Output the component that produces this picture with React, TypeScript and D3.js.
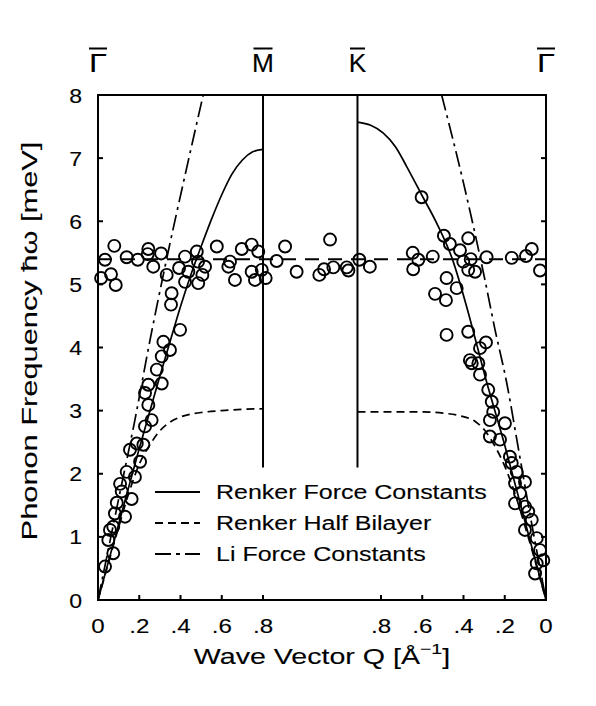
import React from "react";
import * as d3 from "d3";

// path lengths along Γ-M-K-Γ in Å^-1
const Q_M = 0.8;
const Q_MK = 0.458;
const Q_K = 0.914;
const TOTAL = Q_M + Q_MK + Q_K;

const Y_TICKS = [0, 1, 2, 3, 4, 5, 6, 7, 8];
const Q_TICKS = [0, 0.2, 0.4, 0.6, 0.8];
const SYM_POINTS = [
  { label: "Γ", pos: 0 },
  { label: "M", pos: Q_M },
  { label: "K", pos: Q_M + Q_MK },
  { label: "Γ", pos: TOTAL },
];
const VLINE_FROM = 2.1;
const FLAT_E = 5.4;

// measured points: [Q from Γ, E meV] on Γ→M
const leftPts: [number, number][] = [
  [0.079, 5.61], [0.034, 5.39], [0.015, 5.1], [0.063, 5.16], [0.086, 4.99],
  [0.139, 5.43], [0.193, 5.39], [0.244, 5.56], [0.241, 5.48], [0.306, 5.49],
  [0.268, 5.28], [0.333, 5.15], [0.357, 4.86], [0.354, 4.68], [0.398, 4.28],
  [0.422, 5.44], [0.393, 5.26], [0.479, 5.52], [0.438, 5.2], [0.422, 5.04],
  [0.519, 5.28], [0.506, 5.15], [0.486, 5.02], [0.485, 5.36], [0.576, 5.6],
  [0.64, 5.36], [0.632, 5.28], [0.664, 5.07], [0.697, 5.56], [0.745, 5.63],
  [0.777, 5.52], [0.745, 5.2], [0.761, 5.07], [0.794, 5.23],
  [0.317, 4.09], [0.349, 3.96], [0.309, 3.86], [0.285, 3.65], [0.309, 3.43],
  [0.244, 3.41], [0.228, 3.28], [0.244, 3.09], [0.26, 2.85], [0.228, 2.75],
  [0.188, 2.48], [0.22, 2.46], [0.155, 2.38], [0.204, 2.19], [0.139, 2.03],
  [0.179, 1.95], [0.107, 1.84], [0.115, 1.72], [0.163, 1.6], [0.091, 1.54],
  [0.131, 1.32], [0.082, 1.37], [0.074, 1.16], [0.058, 1.11], [0.05, 0.95],
  [0.074, 0.74], [0.034, 0.53],
];

// [distance from M, E] on M→K
const midPts: [number, number][] = [
  [0.013, 5.1], [0.066, 5.37], [0.107, 5.6], [0.163, 5.2], [0.273, 5.15],
  [0.296, 5.24], [0.325, 5.71], [0.341, 5.27], [0.406, 5.27], [0.414, 5.22],
];

// [Q from Γ, E] on Γ→K (right panel)
const rightPts: [number, number][] = [
  [0.905, 5.39], [0.854, 5.28], [0.646, 5.5], [0.619, 5.39], [0.644, 5.24],
  [0.549, 5.44], [0.603, 6.38], [0.495, 5.77], [0.466, 5.64], [0.417, 5.54],
  [0.377, 5.73], [0.401, 5.36], [0.365, 5.4], [0.377, 5.23], [0.344, 5.2],
  [0.288, 5.43], [0.482, 5.1], [0.433, 4.94], [0.538, 4.85], [0.485, 4.75],
  [0.482, 4.2], [0.377, 4.25], [0.32, 3.99], [0.291, 4.08], [0.369, 3.8],
  [0.166, 5.42], [0.097, 5.45], [0.069, 5.56], [0.029, 5.22],
  [0.36, 3.75], [0.328, 3.75], [0.32, 3.57], [0.28, 3.33], [0.263, 3.14],
  [0.256, 2.98], [0.272, 2.85], [0.199, 2.8], [0.272, 2.59], [0.223, 2.54],
  [0.175, 2.27], [0.166, 2.17], [0.142, 2.03], [0.15, 1.85], [0.102, 1.87],
  [0.126, 1.69], [0.15, 1.53], [0.102, 1.48], [0.086, 1.4], [0.069, 1.27],
  [0.102, 1.11], [0.045, 0.98], [0.029, 0.79], [0.045, 0.58], [0.053, 0.42],
  [0.013, 0.63],
];

// model curves, [Q from Γ, E]
const renkerLeft: [number, number][] = [
  [0, 0], [0.1, 1.2], [0.2, 2.4], [0.3, 3.55], [0.35, 4.1], [0.4, 4.65],
  [0.45, 5.15], [0.5, 5.6], [0.55, 6.03], [0.6, 6.42], [0.65, 6.75],
  [0.7, 6.97], [0.75, 7.1], [0.8, 7.14],
];
const renkerRight: [number, number][] = [
  [0, 0], [0.1, 1.22], [0.2, 2.45], [0.3, 3.6], [0.336, 4.05], [0.385, 4.65],
  [0.454, 5.4], [0.53, 5.97], [0.603, 6.42], [0.676, 6.87], [0.73, 7.18],
  [0.79, 7.4], [0.85, 7.52], [0.914, 7.57],
];
const halfLeft: [number, number][] = [
  [0, 0], [0.1, 1.15], [0.15, 1.7], [0.2, 2.15], [0.25, 2.45], [0.3, 2.68],
  [0.35, 2.82], [0.4, 2.9], [0.5, 2.97], [0.6, 3.0], [0.7, 3.02], [0.8, 3.03],
];
const halfRight: [number, number][] = [
  [0, 0], [0.1, 1.15], [0.15, 1.68], [0.2, 2.12], [0.25, 2.45], [0.3, 2.7],
  [0.34, 2.82], [0.42, 2.92], [0.5, 2.96], [0.6, 2.98], [0.914, 2.98],
];
const liLeft: [number, number][] = [
  [0, 0], [0.1, 1.6], [0.18, 2.87], [0.25, 4.08], [0.33, 5.36], [0.42, 6.7], [0.51, 8.0],
];
const liRight: [number, number][] = [
  [0, 0], [0.08, 1.4], [0.134, 2.4], [0.191, 3.45], [0.247, 4.28], [0.296, 5.07],
  [0.352, 5.92], [0.401, 6.62], [0.506, 8.0],
];

const LEGEND = [
  { name: "Renker Force Constants", dash: "none" },
  { name: "Renker Half Bilayer", dash: "8,5" },
  { name: "Li Force Constants", dash: "16,5,4,5" },
];

const W = 596, H = 706;
const MARGIN = { top: 95, right: 50, bottom: 106, left: 98 };
const FONT = "'Liberation Sans', Arial, Helvetica, sans-serif";
const BAR_W: Record<string, number> = { "Γ": 18, M: 19, K: 15 };

const x = d3.scaleLinear().domain([0, TOTAL]).range([MARGIN.left, W - MARGIN.right]);
const y = d3.scaleLinear().domain([0, 8]).range([H - MARGIN.bottom, MARGIN.top]);

const fromLeft = (q: number) => q;
const fromM = (s: number) => Q_M + s;
const fromRight = (q: number) => TOTAL - q;

const line = d3.line<[number, number]>()
  .x(d => x(d[0])).y(d => y(d[1]))
  .curve(d3.curveMonotoneX);

const toPath = (pts: [number, number][], f: (q: number) => number) =>
  line(pts.map(p => [f(p[0]), p[1]] as [number, number]).sort((a, b) => a[0] - b[0])) || "";

// stretched label text (reference typeface is wider than Helvetica)
function ST({ tx, ty, sx = 1.25, rot = 0, anchor = "start", size, children }: any) {
  return (
    <g transform={`translate(${tx},${ty}) rotate(${rot}) scale(${sx},1)`}>
      <text textAnchor={anchor} fontSize={size} fill="#000" stroke="#000" strokeWidth={0.12}>{children}</text>
    </g>
  );
}

export default function App() {
  const allPts = [
    ...leftPts.map(p => [fromLeft(p[0]), p[1]]),
    ...midPts.map(p => [fromM(p[0]), p[1]]),
    ...rightPts.map(p => [fromRight(p[0]), p[1]]),
  ];
  const x0 = x(0), x1 = x(TOTAL), y0 = y(0), y1 = y(8);
  const tickLen = 5;

  return (
    <div style={{ position: "absolute", left: 0, top: 0, width: W, height: H, background: "#fff" }}>
      <svg width={W} height={H} style={{ display: "block", fontFamily: FONT }}>
        <defs>
          <clipPath id="plot-clip">
            <rect x={x0} y={y1} width={x1 - x0} height={y0 - y1} />
          </clipPath>
        </defs>

        {/* symmetry point vertical lines */}
        {SYM_POINTS.slice(1, 3).map((s, i) => (
          <line key={i} x1={x(s.pos)} x2={x(s.pos)} y1={y(8)} y2={y(VLINE_FROM)} stroke="#000" strokeWidth={2} />
        ))}

        <g clipPath="url(#plot-clip)" fill="none" stroke="#000">
          <line x1={x0} x2={x1} y1={y(FLAT_E)} y2={y(FLAT_E)} strokeWidth={2} strokeDasharray="14,9" />
          <path d={toPath(renkerLeft, fromLeft)} strokeWidth={1.7} />
          <path d={toPath(renkerRight, fromRight)} strokeWidth={1.7} />
          <path d={toPath(halfLeft, fromLeft)} strokeWidth={1.7} strokeDasharray="8,5" />
          <path d={toPath(halfRight, fromRight)} strokeWidth={1.7} strokeDasharray="8,5" />
          <path d={toPath(liLeft, fromLeft)} strokeWidth={1.7} strokeDasharray="16,5,3,5" />
          <path d={toPath(liRight, fromRight)} strokeWidth={1.7} strokeDasharray="16,5,3,5" />
        </g>

        {/* data */}
        <g fill="none" stroke="#000" strokeWidth={1.9}>
          {allPts.map((p, i) => (
            <circle key={i} cx={x(p[0])} cy={y(p[1])} r={6} />
          ))}
        </g>

        {/* frame */}
        <rect x={x0} y={y1} width={x1 - x0} height={y0 - y1} fill="none" stroke="#000" strokeWidth={2} />

        {/* y ticks both sides */}
        {Y_TICKS.slice(1, -1).map(t => (
          <g key={t} stroke="#000" strokeWidth={2}>
            <line x1={x0} x2={x0 + tickLen} y1={y(t)} y2={y(t)} />
            <line x1={x1} x2={x1 - tickLen} y1={y(t)} y2={y(t)} />
          </g>
        ))}
        {Y_TICKS.map(t => (
          <ST key={t} tx={x0 - 16} ty={y(t) + 7.5} size={21} sx={1.1} anchor="end">{t}</ST>
        ))}

        {/* x ticks on both panels */}
        {Q_TICKS.map(q => (
          <g key={q} stroke="#000" strokeWidth={2}>
            <line x1={x(fromLeft(q))} x2={x(fromLeft(q))} y1={y0} y2={y0 - tickLen} />
            <line x1={x(fromRight(q))} x2={x(fromRight(q))} y1={y0} y2={y0 - tickLen} />
          </g>
        ))}
        {Q_TICKS.map(q => {
          const lab = q === 0 ? "0" : d3.format(".1f")(q).replace(/^0/, "");
          return (
            <g key={q}>
              <ST tx={x(fromLeft(q))} ty={y0 + 33} size={21} sx={1.15} anchor="middle">{lab}</ST>
              <ST tx={x(fromRight(q))} ty={y0 + 33} size={21} sx={1.15} anchor="middle">{lab}</ST>
            </g>
          );
        })}

        {/* symmetry labels */}
        {SYM_POINTS.map((s, i) => (
          <g key={i}>
            <ST tx={x(s.pos)} ty={72} size={25} sx={s.label === "Γ" ? 1.3 : 1.05} anchor="middle">{s.label}</ST>
            <line x1={x(s.pos) - BAR_W[s.label] / 2} x2={x(s.pos) + BAR_W[s.label] / 2} y1={48.5} y2={48.5} stroke="#000" strokeWidth={2} />
          </g>
        ))}

        {/* axis titles */}
        <ST tx={(x0 + x1) / 2} ty={664} size={22} sx={1.3} anchor="middle">
          Wave Vector Q [Å<tspan fontSize={15} dy={-10}>−1</tspan><tspan dy={10}>]</tspan>
        </ST>
        <ST tx={37} ty={341} rot={-90} size={22} sx={1.4} anchor="middle">
          Phonon Frequency ħω [meV]
        </ST>

        {/* legend */}
        {LEGEND.map((l, i) => {
          const by = 499 + i * 31;
          return (
            <g key={l.name}>
              <line x1={155} x2={200} y1={by - 7} y2={by - 7} stroke="#000" strokeWidth={2} strokeDasharray={l.dash} />
              <ST tx={216} ty={by} size={20} sx={1.25}>{l.name}</ST>
            </g>
          );
        })}
      </svg>
    </div>
  );
}
